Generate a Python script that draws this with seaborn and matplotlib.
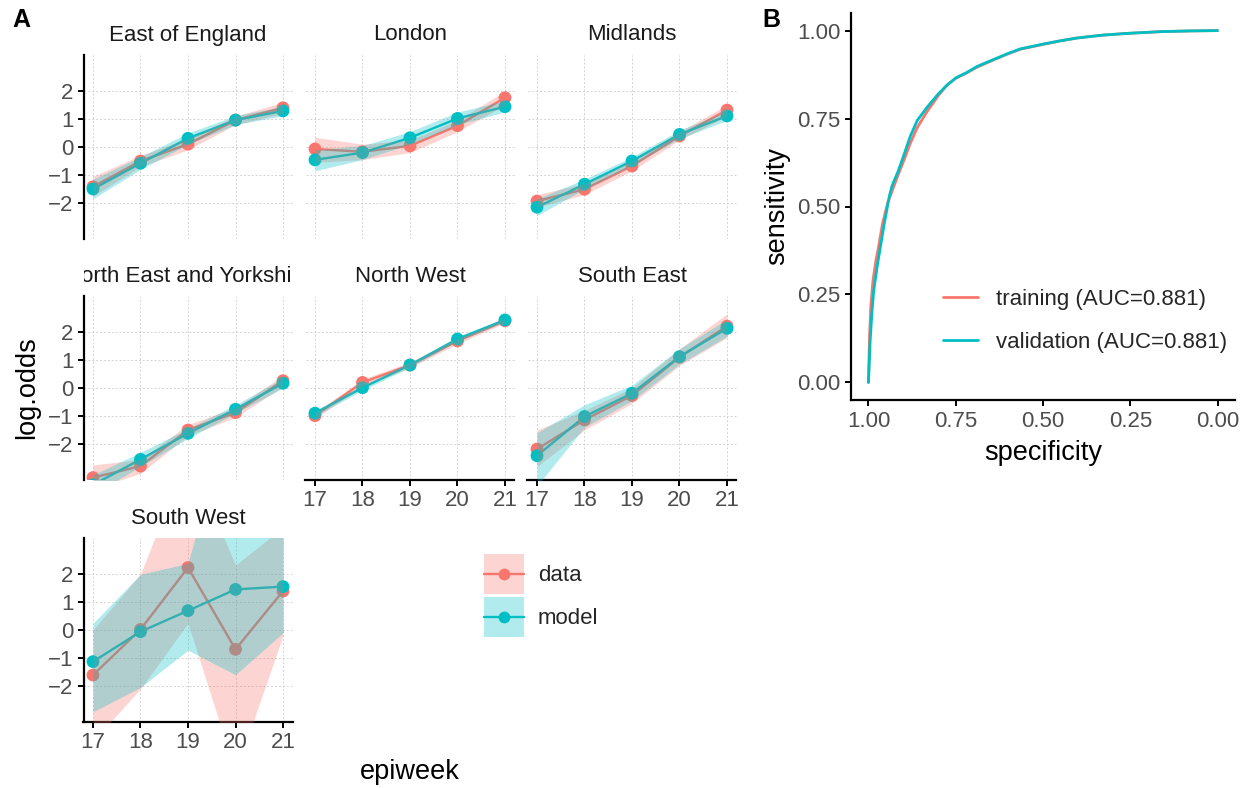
import matplotlib
matplotlib.use("Agg")
import matplotlib.pyplot as plt
import seaborn as sns
import pandas as pd
from matplotlib.patches import Patch
from matplotlib.lines import Line2D
from matplotlib.legend_handler import HandlerLine2D
from matplotlib.transforms import Bbox, TransformedBbox, ScaledTranslation

sns.set_theme(style="white")
plt.rcParams['font.family'] = ['Liberation Sans', 'DejaVu Sans']
plt.rcParams['axes.unicode_minus'] = True

RED = "#F8766D"
CYAN = "#00BFC4"
PAL = {"data": RED, "model": CYAN}

# ---------------- data ----------------
weeks = [17, 18, 19, 20, 21]
regions = ["East of England", "London", "Midlands", "North East and Yorkshire",
           "North West", "South East", "South West"]

data_mean = {
    "East of England": [-1.42, -0.50, 0.10, 0.96, 1.40],
    "London": [-0.07, -0.17, 0.04, 0.76, 1.76],
    "Midlands": [-1.93, -1.51, -0.68, 0.39, 1.32],
    "North East and Yorkshire": [-3.20, -2.79, -1.50, -0.88, 0.26],
    "North West": [-0.99, 0.20, 0.82, 1.68, 2.40],
    "South East": [-2.18, -1.14, -0.27, 1.10, 2.21],
    "South West": [-1.61, 0.02, 2.23, -0.69, 1.39],
}
data_lo = {
    "East of England": [-1.75, -0.70, -0.10, 0.80, 1.20],
    "London": [-0.55, -0.45, -0.20, 0.55, 1.50],
    "Midlands": [-2.15, -1.70, -0.85, 0.25, 1.10],
    "North East and Yorkshire": [-3.60, -3.05, -1.70, -1.05, 0.05],
    "North West": [-1.10, 0.08, 0.72, 1.58, 2.32],
    "South East": [-2.80, -1.50, -0.55, 0.80, 1.80],
    "South West": [-3.97, -2.10, 0.24, -5.10, -0.20],
}
data_hi = {
    "East of England": [-1.05, -0.30, 0.30, 1.10, 1.60],
    "London": [0.35, 0.10, 0.25, 0.95, 2.00],
    "Midlands": [-1.70, -1.30, -0.50, 0.55, 1.50],
    "North East and Yorkshire": [-2.75, -2.55, -1.30, -0.70, 0.45],
    "North West": [-0.88, 0.32, 0.92, 1.78, 2.48],
    "South East": [-1.50, -0.80, 0.00, 1.40, 2.65],
    "South West": [0.00, 2.00, 6.30, 2.32, 3.66],
}
model_mean = {
    "East of England": [-1.50, -0.58, 0.31, 0.96, 1.29],
    "London": [-0.46, -0.20, 0.33, 1.02, 1.44],
    "Midlands": [-2.15, -1.33, -0.50, 0.45, 1.11],
    "North East and Yorkshire": [-3.46, -2.55, -1.62, -0.76, 0.17],
    "North West": [-0.90, 0.01, 0.82, 1.75, 2.43],
    "South East": [-2.42, -1.02, -0.19, 1.12, 2.13],
    "South West": [-1.13, -0.06, 0.69, 1.45, 1.55],
}
model_lo = {
    "East of England": [-1.85, -0.80, 0.10, 0.80, 1.12],
    "London": [-0.85, -0.45, 0.10, 0.80, 1.25],
    "Midlands": [-2.45, -1.50, -0.65, 0.30, 0.95],
    "North East and Yorkshire": [-3.80, -2.80, -1.80, -0.90, 0.00],
    "North West": [-1.00, -0.08, 0.74, 1.67, 2.36],
    "South East": [-3.50, -1.40, -0.45, 0.85, 1.85],
    "South West": [-2.92, -2.05, -0.72, -1.60, -0.10],
}
model_hi = {
    "East of England": [-1.15, -0.35, 0.50, 1.12, 1.45],
    "London": [-0.10, 0.05, 0.55, 1.25, 1.65],
    "Midlands": [-1.85, -1.15, -0.35, 0.60, 1.28],
    "North East and Yorkshire": [-3.10, -2.30, -1.45, -0.60, 0.35],
    "North West": [-0.80, 0.10, 0.90, 1.83, 2.50],
    "South East": [-1.60, -0.60, 0.10, 1.40, 2.45],
    "South West": [0.24, 1.99, 2.38, 8.50, 5.00],
}

# ROC curves (specificity, sensitivity)
train_spec = [1.0, 0.997, 0.993, 0.987, 0.978, 0.972, 0.96, 0.945, 0.93, 0.915, 0.899,
              0.88, 0.86, 0.832, 0.80, 0.775, 0.749, 0.72, 0.689, 0.641, 0.60, 0.565,
              0.498, 0.45, 0.402, 0.33, 0.259, 0.163, 0.08, 0.0]
train_sens = [0.0, 0.13, 0.22, 0.29, 0.35, 0.38, 0.45, 0.51, 0.55, 0.59, 0.63,
              0.68, 0.725, 0.77, 0.815, 0.845, 0.865, 0.879, 0.896, 0.917, 0.934, 0.947,
              0.961, 0.971, 0.979, 0.987, 0.992, 0.997, 0.999, 1.0]
valid_spec = [1.0, 0.995, 0.99, 0.985, 0.975, 0.970, 0.955, 0.94, 0.932, 0.915, 0.899,
              0.88, 0.860, 0.832, 0.80, 0.775, 0.749, 0.72, 0.689, 0.641, 0.60, 0.565,
              0.498, 0.45, 0.402, 0.33, 0.259, 0.163, 0.08, 0.0]
valid_sens = [0.0, 0.12, 0.20, 0.26, 0.33, 0.36, 0.45, 0.53, 0.56, 0.60, 0.645,
              0.70, 0.745, 0.782, 0.82, 0.845, 0.866, 0.88, 0.898, 0.918, 0.935, 0.948,
              0.962, 0.971, 0.979, 0.987, 0.992, 0.997, 0.999, 1.0]
roc_labels = ["training (AUC=0.881)", "validation (AUC=0.881)"]

# ---------------- tables ----------------
rows_ = []
for reg in regions:
    for t, mean, lo, hi in (("data", data_mean, data_lo, data_hi),
                            ("model", model_mean, model_lo, model_hi)):
        for i, w in enumerate(weeks):
            rows_.append(dict(region=reg, type=t, week=w, mean=mean[reg][i],
                              lo=lo[reg][i], hi=hi[reg][i]))
df = pd.DataFrame(rows_)

roc = pd.concat([
    pd.DataFrame(dict(spec=train_spec, sens=train_sens, set=roc_labels[0])),
    pd.DataFrame(dict(spec=valid_spec, sens=valid_sens, set=roc_labels[1])),
], ignore_index=True)

# ---------------- figure ----------------
W, H = 1252, 788
fig = plt.figure(figsize=(W / 100, H / 100), dpi=100)
fig.patch.set_facecolor("white")


def px_axes(x0, y0, x1, y1):
    return fig.add_axes([x0 / W, 1 - y1 / H, (x1 - x0) / W, (y1 - y0) / H])


TICK_COL = "#4D4D4D"
SPINE_W = 1.6
cols = [(83.5, 292.5), (305.5, 514.5), (527.5, 736.5)]
rowsy = [(54.6, 239.4), (295.6, 480.4), (537.6, 722.4)]
bottom_panels = {"North West", "South East", "South West"}

for k, reg in enumerate(regions):
    r, c = divmod(k, 3)
    ax = px_axes(cols[c][0], rowsy[r][0], cols[c][1], rowsy[r][1])
    ax.set_facecolor("white")
    sub = df[df.region == reg]
    sns.lineplot(data=sub, x="week", y="mean", hue="type", palette=PAL,
                 hue_order=["data", "model"], estimator=None, lw=1.7,
                 ax=ax, legend=False, zorder=2)
    sns.scatterplot(data=sub, x="week", y="mean", hue="type", palette=PAL,
                    hue_order=["data", "model"], s=85, edgecolor="none",
                    ax=ax, legend=False, zorder=3)
    for t in ["data", "model"]:
        s2 = sub[sub.type == t]
        ax.fill_between(s2.week, s2.lo, s2.hi, color=PAL[t], alpha=0.3,
                        lw=0, zorder=4)
    ax.set_xlim(16.8, 21.2)
    ax.set_ylim(-3.3, 3.3)
    ax.set_xticks(weeks)
    ax.set_yticks([-2, -1, 0, 1, 2])
    ax.grid(True, color="#D3D3D3", linestyle=(0, (2, 2)), linewidth=0.7, zorder=0)
    ax.set_axisbelow(True)
    ax.set_xlabel("")
    ax.set_ylabel("")
    for sp in ["top", "right"]:
        ax.spines[sp].set_visible(False)
    ax.spines["left"].set_visible(c == 0)
    ax.spines["bottom"].set_visible(reg in bottom_panels)
    for sp in ["left", "bottom"]:
        ax.spines[sp].set_color("black")
        ax.spines[sp].set_linewidth(SPINE_W)
    ax.tick_params(axis="y", left=(c == 0), labelleft=(c == 0), length=4.3,
                   width=1.4, color="black", pad=2.9, labelsize=16,
                   labelcolor=TICK_COL)
    ax.tick_params(axis="x", bottom=(reg in bottom_panels),
                   labelbottom=(reg in bottom_panels), length=4.3, width=1.4,
                   color="black", pad=2.5, labelsize=16, labelcolor=TICK_COL)
    # strip title (clipped to panel width)
    tr = ax.transAxes + ScaledTranslation(0, 19.6 / 100, fig.dpi_scale_trans)
    txt = fig.text(0.5, 1.0, reg, transform=tr, ha="center", va="center",
                   fontsize=16, color="#1A1A1A")
    txt.set_clip_box(TransformedBbox(Bbox([[0, 1], [1, 1.5]]), ax.transAxes))
    txt.set_clip_on(True)


class CenteredLine(HandlerLine2D):
    """Line + marker drawn at the vertical centre of the legend key box."""
    def create_artists(self, legend, orig_handle, xdescent, ydescent, width,
                       height, fontsize, trans):
        arts = super().create_artists(legend, orig_handle, xdescent, ydescent,
                                      width, height, fontsize, trans)
        for a in arts:
            a.set_ydata([v - ydescent / 2 for v in a.get_ydata()])
        return arts


# legend for panel A
handles = [
    (Patch(facecolor=RED, alpha=0.3, lw=0),
     Line2D([], [], color=RED, marker="o", ms=8.5, lw=1.7, mew=0)),
    (Patch(facecolor=CYAN, alpha=0.3, lw=0),
     Line2D([], [], color=CYAN, marker="o", ms=8.5, lw=1.7, mew=0)),
]
fig.legend(handles=handles, labels=["data", "model"], loc="upper left",
           bbox_to_anchor=(484 / W, 1 - 554 / H), frameon=False, fontsize=16,
           handlelength=1.8, handleheight=2.39, handletextpad=0.63,
           labelspacing=0.14, borderpad=0, borderaxespad=0, numpoints=1,
           handler_map={Line2D: CenteredLine()})

fig.text(27 / W, 1 - 388 / H, "log.odds", rotation=90, ha="center", va="center",
         fontsize=19.5, color="black")
fig.text(410 / W, 1 - 772 / H, "epiweek", ha="center", va="center",
         fontsize=19.5, color="black")
fig.text(12 / W, 1 - 20 / H, "A", ha="left", va="center", fontsize=18,
         fontweight="bold", color="black")
fig.text(762 / W, 1 - 20 / H, "B", ha="left", va="center", fontsize=18,
         fontweight="bold", color="black")

# ---------------- panel B ----------------
axb = px_axes(851, 13, 1235, 400)
axb.set_facecolor("white")
sns.lineplot(data=roc, x="spec", y="sens", hue="set", palette=[RED, CYAN],
             hue_order=roc_labels, sort=False, estimator=None, lw=2.0,
             ax=axb, legend=False)
axb.set_xlim(1.05, -0.05)
axb.set_ylim(-0.05, 1.05)
ticks = [1.0, 0.75, 0.5, 0.25, 0.0]
axb.set_xticks(ticks)
axb.set_xticklabels([f"{t:.2f}" for t in ticks])
axb.set_yticks(ticks)
axb.set_yticklabels([f"{t:.2f}" for t in ticks])
axb.set_xlabel("")
axb.set_ylabel("")
axb.grid(False)
for sp in ["top", "right"]:
    axb.spines[sp].set_visible(False)
for sp in ["left", "bottom"]:
    axb.spines[sp].set_visible(True)
    axb.spines[sp].set_color("black")
    axb.spines[sp].set_linewidth(SPINE_W)
axb.tick_params(axis="both", length=4.3, width=1.4, color="black", pad=3.5,
                labelsize=16, labelcolor=TICK_COL, left=True, bottom=True)
lh = [Line2D([], [], color=RED, lw=2.0), Line2D([], [], color=CYAN, lw=2.0)]
axb.legend(handles=lh, labels=roc_labels, loc="upper left",
           bbox_to_anchor=(943 / W, 1 - 289 / H), bbox_transform=fig.transFigure,
           frameon=False, fontsize=16, handlelength=1.58, handletextpad=0.81,
           labelspacing=1.0, borderpad=0, borderaxespad=0)
fig.text(777 / W, 1 - 206 / H, "sensitivity", rotation=90, ha="center",
         va="center", fontsize=19.5, color="black")
fig.text(1043 / W, 1 - 453 / H, "specificity", ha="center", va="center",
         fontsize=19.5, color="black")

fig.savefig("out.png", dpi=100, facecolor="white")
